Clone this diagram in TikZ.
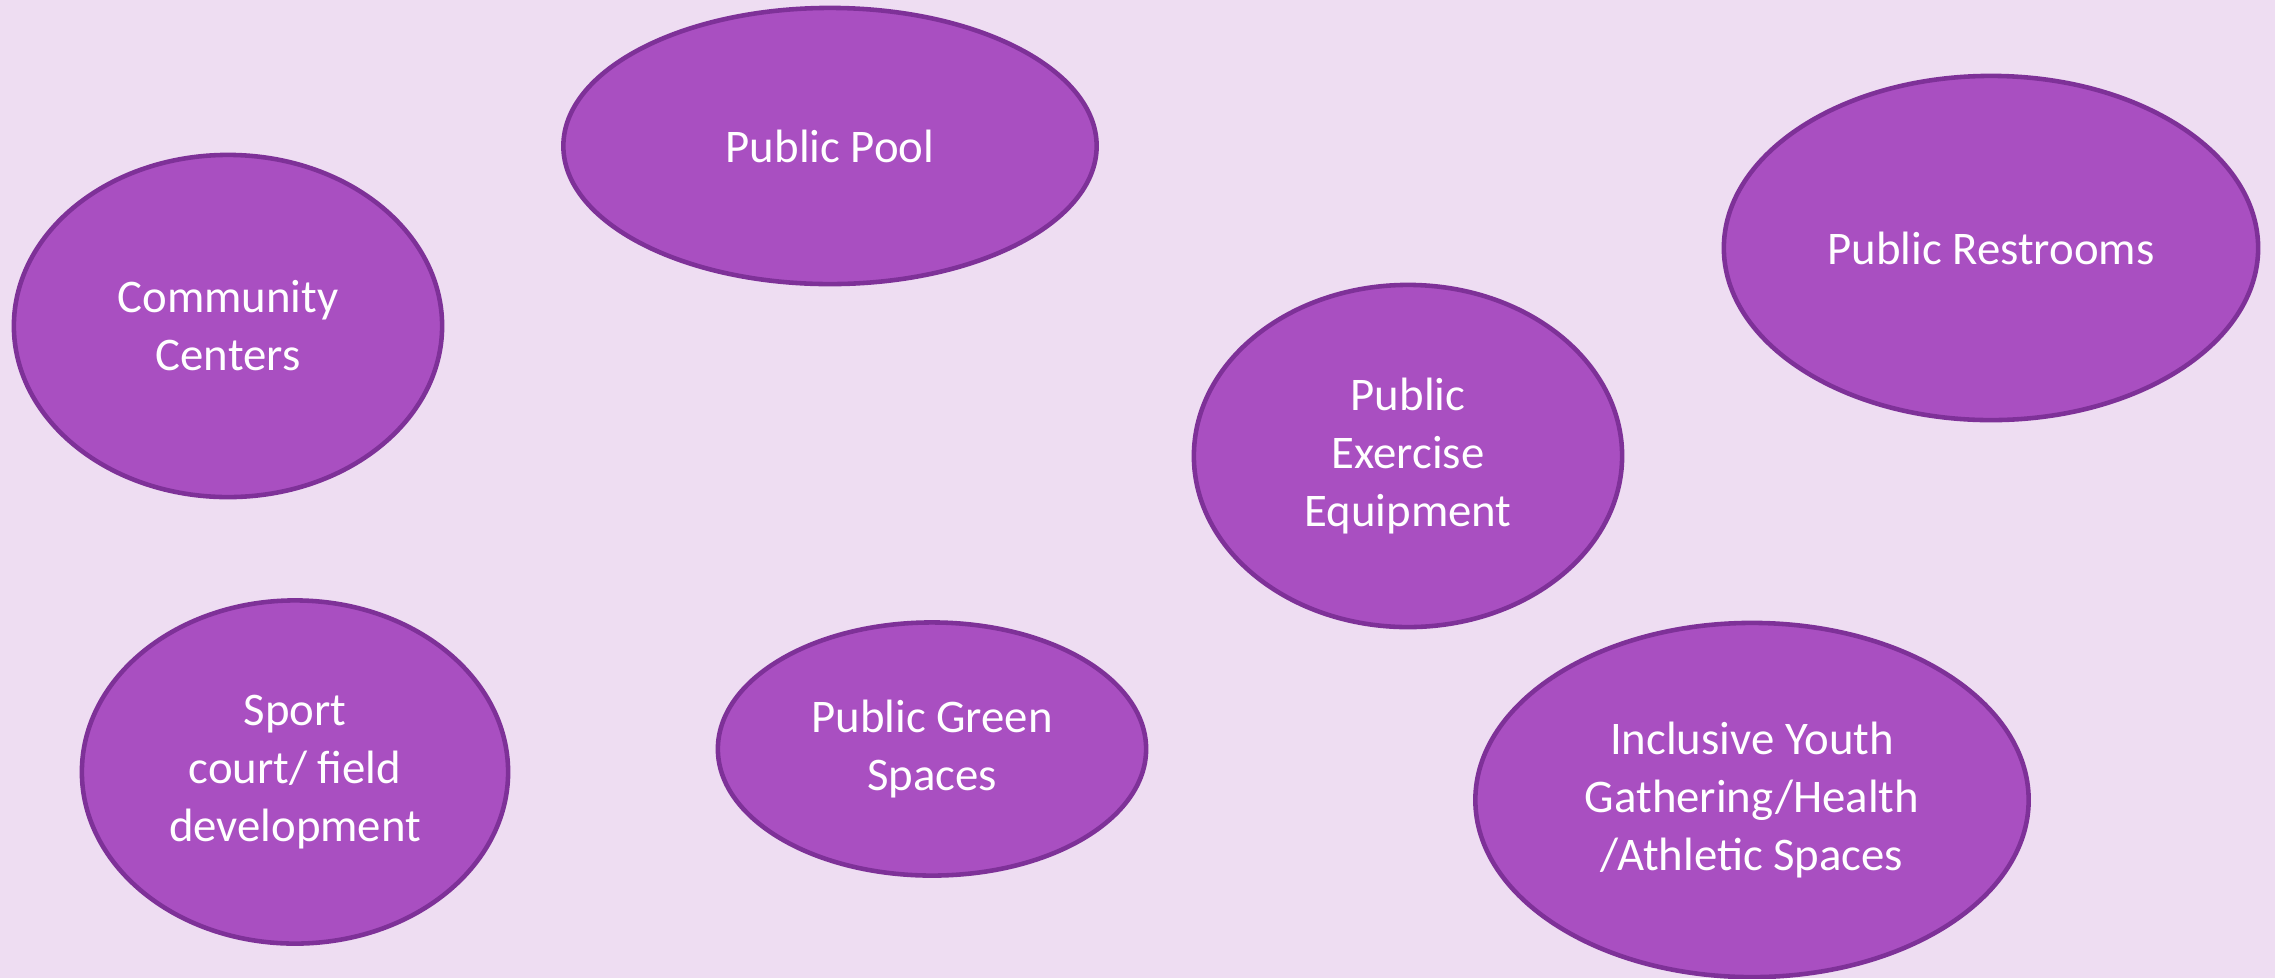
\documentclass[tikz,border=0pt]{standalone}
\usepackage{fontspec}
\setmainfont{Carlito}
\usetikzlibrary{shapes.geometric}

\definecolor{bgpurple}{HTML}{EEDDF2}
\definecolor{fillpurple}{HTML}{A94FC1}
\definecolor{edgepurple}{HTML}{7E3198}

\tikzset{
  bubble/.style={ellipse, draw=edgepurple, fill=fillpurple, line width=1.3pt,
    inner sep=0pt, text=white, align=center,
    font=\fontsize{13.3}{16.5}\selectfont}
}

\begin{document}
\begin{tikzpicture}[x=0.01cm,y=-0.01cm]
\useasboundingbox (0,0) rectangle (2275,978);
\fill[bgpurple] (0,0) rectangle (2275,978);
% top row
\node[bubble, minimum width=5.33cm, minimum height=2.76cm] (pool) at (830,146) {Public Pool};
\node[bubble, minimum width=4.28cm, minimum height=3.42cm] (community) at (228,326) {Community\\Centers};
\node[bubble, minimum width=5.34cm, minimum height=3.44cm] (restrooms) at (1991,248) {Public Restrooms};
\node[bubble, minimum width=4.28cm, minimum height=3.42cm] (exercise) at (1408,456) {Public\\Exercise\\Equipment};
% bottom row
\node[bubble, minimum width=4.26cm, minimum height=3.43cm] (sport) at (295,772) {Sport\\court/ field\\development};
\node[bubble, minimum width=4.28cm, minimum height=2.53cm] (green) at (932,749) {Public Green\\Spaces};
\node[bubble, minimum width=5.53cm, minimum height=3.54cm] (youth) at (1752,800) {Inclusive Youth\\Gathering/Health\\/Athletic Spaces};
\end{tikzpicture}
\end{document}
